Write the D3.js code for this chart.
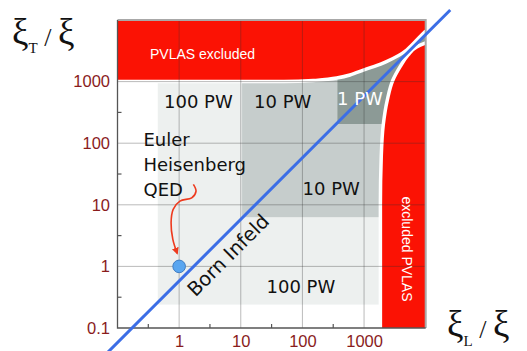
<!DOCTYPE html>
<html>
<head>
<meta charset="utf-8">
<script src="https://cdn.jsdelivr.net/npm/d3@7"></script>
<style>
  body { margin: 0; background: #fff; }
  svg { display: block; }
</style>
</head>
<body>
<svg id="chart" width="527" height="351"></svg>
<script>
// decade ticks on both axes
const xTicks = [1, 10, 100, 1000];
const yTicks = [0.1, 1, 10, 100, 1000];
const minorTicks = [0.316, 3.16, 31.6, 316];

// PVLAS exclusion boundaries, points are [xiL, xiT]
const topEdge = [[0.1, 1000], [50, 1000], [150, 1040], [360, 1140], [590, 1280], [1000, 1550],
                 [2030, 2000], [4920, 3260], [8600, 5700], [10000, 6600]];
const rightEdge = [[1840, 0.1], [1840, 10], [1900, 60], [2050, 200], [2380, 500], [2940, 1060],
                   [3830, 1730], [5160, 2700], [7140, 3650], [10000, 4240]];

// laser power regions, lower-left corner [xiL, xiT]
const regionNames = ['100 PW', '10 PW', '1 PW'];
const regionCorners = [[0.45, 0.24], [10.5, 6.3], [370, 205]];

// Born Infeld line xiT = k * xiL
const bornSlope = 0.58;
const bornRange = [0.063, 25000];

const qedPoint = [1, 1];
const arrowPoints = [[1.70, 21.5], [1.88, 16.7], [1.60, 13.0], [1.03, 11.5], [0.80, 8.45],
                     [0.74, 5.1], [0.79, 2.75], [0.93, 1.63]];

const colors = {
   red: '#fb1204',
   regions: ['#edf0ef', '#c6cdcc', '#8c9a96'],
   tick: '#8a1c1c',
   blue: '#3c6ee6',
   grid: 'rgba(50,50,50,0.33)'
};

const svg = d3.select('#chart');
const x = d3.scaleLog().domain([0.1, 10000]).range([117.5, 425.7]);
const y = d3.scaleLog().domain([0.1, 10000]).range([328, 20]);
const pt = d => x(d[0]) + ',' + y(d[1]);

const topPath = d3.line().x(d => x(d[0])).y(d => y(d[1])).curve(d3.curveMonotoneX)(topEdge);
const rightPath = d3.line().x(d => x(d[0])).y(d => y(d[1])).curve(d3.curveMonotoneY)(rightEdge);

let defs = svg.append('defs');
defs.append('clipPath').attr('id', 'below-top')
   .append('path')
   .attr('d', 'M' + pt([0.1, 0.1]) + 'L' + topPath.slice(1) + 'L' + pt([10000, 0.1]) + 'Z');
defs.append('clipPath').attr('id', 'left-of-right')
   .append('path')
   .attr('d', 'M' + pt([0.1, 0.1]) + 'L' + rightPath.slice(1) + 'L' + pt([10000, 10000]) + 'L' + pt([0.1, 10000]) + 'Z');
defs.append('marker').attr('id', 'arrow')
   .attr('viewBox', '0 0 10 10').attr('refX', 8).attr('refY', 5)
   .attr('markerWidth', 7).attr('markerHeight', 7)
   .attr('markerUnits', 'userSpaceOnUse')
   .attr('orient', 'auto')
   .append('path').attr('d', 'M0,0L10,5L0,10Z').attr('fill', '#ee3a1e');

// power regions, clipped to the allowed channel
svg.append('g').attr('clip-path', 'url(#below-top)')
   .append('g').attr('clip-path', 'url(#left-of-right)')
   .selectAll('rect')
   .data(regionCorners)
   .join('rect')
   .attr('x', d => x(d[0]))
   .attr('y', y(10000))
   .attr('width', d => x(10000) - x(d[0]))
   .attr('height', d => y(d[1]) - y(10000))
   .style('fill', (d, i) => colors.regions[i]);

// excluded regions
svg.append('path')
   .attr('d', 'M' + pt([0.1, 10000]) + 'L' + topPath.slice(1) + 'L' + pt([10000, 10000]) + 'Z')
   .style('fill', colors.red);
svg.append('path')
   .attr('d', rightPath + 'L' + pt([10000, 0.1]) + 'Z')
   .style('fill', colors.red);
svg.selectAll('.edge')
   .data([topPath, rightPath])
   .join('path').attr('class', 'edge')
   .attr('d', d => d)
   .style('fill', 'none')
   .style('stroke', 'white')
   .style('stroke-width', 3.5);

// grid
svg.append('g').selectAll('line')
   .data(xTicks)
   .join('line')
   .attr('x1', d => x(d)).attr('x2', d => x(d))
   .attr('y1', y(0.1)).attr('y2', y(10000))
   .style('stroke', colors.grid);
svg.append('g').selectAll('line')
   .data(yTicks.slice(1))
   .join('line')
   .attr('y1', d => y(d)).attr('y2', d => y(d))
   .attr('x1', x(0.1)).attr('x2', x(10000))
   .style('stroke', colors.grid);

// frame and axes
svg.append('path')
   .attr('d', 'M' + pt([0.1, 10000]) + 'L' + pt([10000, 10000]) + 'L' + pt([10000, 0.1]))
   .style('fill', 'none').style('stroke', '#a8a8a8').style('stroke-width', 2);
svg.append('path')
   .attr('d', 'M' + pt([0.1, 10000]) + 'L' + pt([0.1, 0.1]) + 'L' + pt([10000, 0.1]))
   .style('fill', 'none').style('stroke', '#555').style('stroke-width', 1.3);

svg.append('g').selectAll('line')
   .data(minorTicks)
   .join('line')
   .attr('x1', d => x(d)).attr('x2', d => x(d))
   .attr('y1', y(0.1)).attr('y2', y(0.1) - 4)
   .style('stroke', '#555').style('stroke-width', 1.2);
svg.append('g').selectAll('line')
   .data(minorTicks)
   .join('line')
   .attr('y1', d => y(d)).attr('y2', d => y(d))
   .attr('x1', x(0.1)).attr('x2', x(0.1) + 4)
   .style('stroke', '#555').style('stroke-width', 1.2);

const fmt = d3.format('~g');
let yAxis = svg.append('g')
   .attr('transform', `translate(${x(0.1)},0)`)
   .call(d3.axisLeft(y).tickValues(yTicks).tickFormat(fmt).tickSize(0).tickPadding(7.5));
let xAxis = svg.append('g')
   .attr('transform', `translate(0,${y(0.1)})`)
   .call(d3.axisBottom(x).tickValues(xTicks).tickFormat(fmt).tickSize(0).tickPadding(7.3));
[xAxis, yAxis].forEach(a => {
   a.select('.domain').remove();
   a.selectAll('text')
      .style('fill', colors.tick)
      .style('font-family', '"Liberation Sans", Arial, sans-serif')
      .style('font-size', '16.5px');
});

// Born Infeld line
svg.append('line')
   .attr('x1', x(bornRange[0])).attr('y1', y(bornRange[0] * bornSlope))
   .attr('x2', x(bornRange[1])).attr('y2', y(bornRange[1] * bornSlope))
   .style('stroke', colors.blue)
   .style('stroke-width', 3);

// QED point and arrow
svg.append('path')
   .attr('d', d3.line().x(d => x(d[0])).y(d => y(d[1])).curve(d3.curveCatmullRom)(arrowPoints))
   .attr('marker-end', 'url(#arrow)')
   .style('fill', 'none')
   .style('stroke', '#ee3a1e')
   .style('stroke-width', 1.6);
svg.append('circle')
   .attr('cx', x(qedPoint[0])).attr('cy', y(qedPoint[1]))
   .attr('r', 6.3)
   .style('fill', '#5aa6f0')
   .style('stroke', '#3f7cc2')
   .style('stroke-width', 1);

// labels
const sans = '"DejaVu Sans", Verdana, sans-serif';
const labels = [
   {t: '100 PW', x: 164, y: 108},
   {t: '10 PW', x: 254, y: 107.5},
   {t: '1 PW', x: 337, y: 105, fill: 'white'},
   {t: 'Euler', x: 143.5, y: 146},
   {t: 'Heisenberg', x: 143.5, y: 170.5},
   {t: 'QED', x: 143.5, y: 196},
   {t: '10 PW', x: 302.5, y: 195},
   {t: '100 PW', x: 266.5, y: 293.3}
];
svg.append('g').selectAll('text')
   .data(labels)
   .join('text')
   .attr('x', d => d.x).attr('y', d => d.y)
   .text(d => d.t)
   .style('fill', d => d.fill || '#111')
   .style('font-family', sans)
   .style('font-size', '18px');

svg.append('text')
   .attr('transform', 'translate(233,260) rotate(-45)')
   .attr('text-anchor', 'middle')
   .text('Born Infeld')
   .style('fill', '#111')
   .style('font-family', sans)
   .style('font-size', '19.5px');

svg.append('text')
   .attr('x', 150).attr('y', 59)
   .text('PVLAS excluded')
   .style('fill', 'white')
   .style('font-family', '"Liberation Sans", Arial, sans-serif')
   .style('font-size', '14px');
svg.append('text')
   .attr('transform', 'translate(402,249) rotate(90)')
   .attr('text-anchor', 'middle')
   .text('excluded PVLAS')
   .style('fill', 'white')
   .style('font-family', '"Liberation Sans", Arial, sans-serif')
   .style('font-size', '14px');

// axis titles
function axisTitle(px, py, sub, subDy) {
   let t = svg.append('text')
      .attr('x', px).attr('y', py)
      .style('font-family', '"Liberation Serif", "Times New Roman", serif')
      .style('fill', '#111');
   t.append('tspan').text('ξ').style('font-size', '37px');
   t.append('tspan').text(sub).attr('dy', subDy).style('font-size', '15px');
   t.append('tspan').text(' / ').attr('dy', -subDy + 1).style('font-size', '26px');
   t.append('tspan').text('ξ').attr('dy', -1).style('font-size', '37px');
}
axisTitle(12, 45, 'T', 8);
axisTitle(447, 337, 'L', 9);
</script>
</body>
</html>
